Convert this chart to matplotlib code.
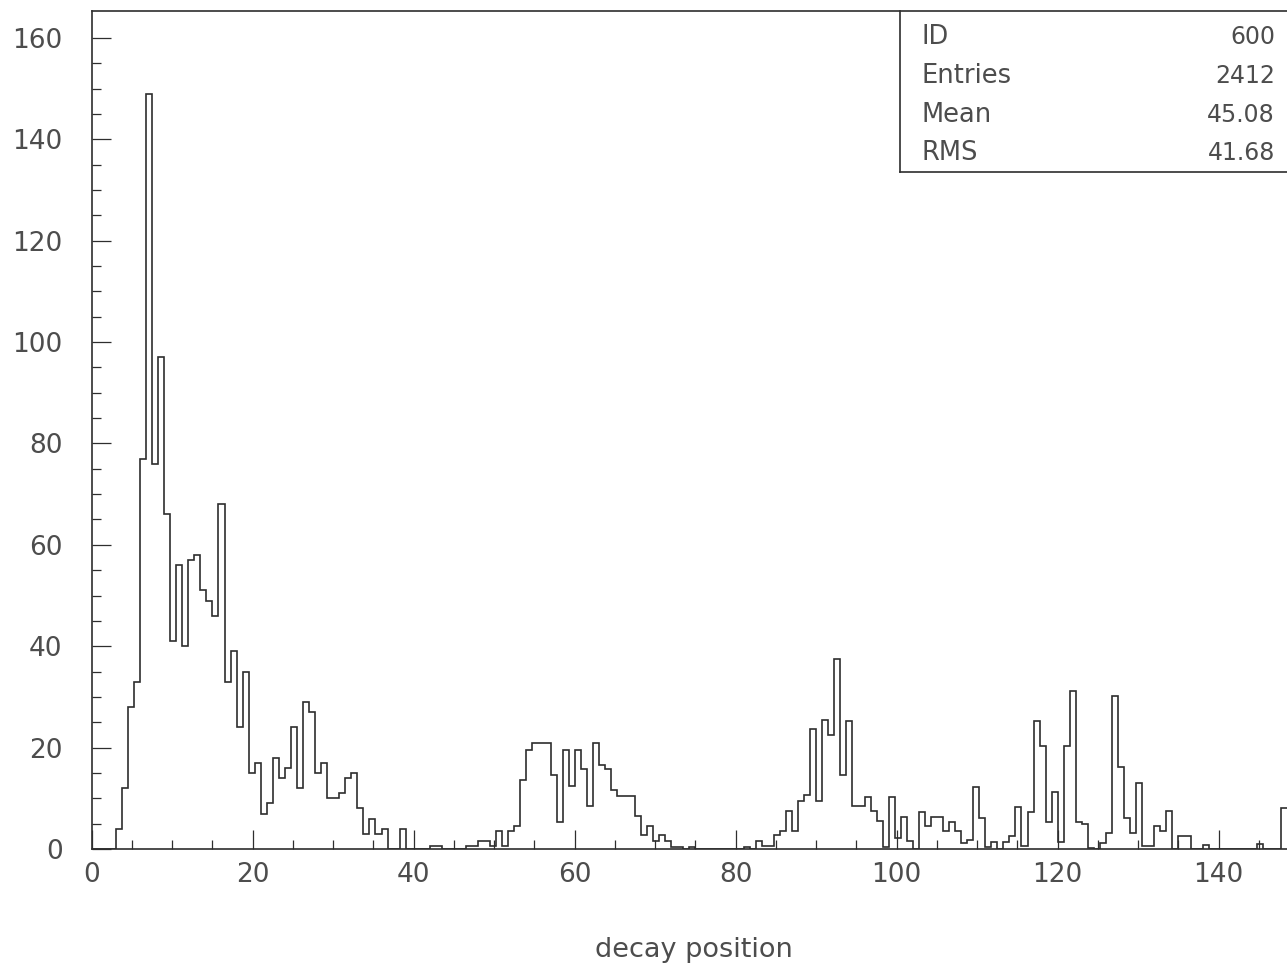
import numpy as np
import matplotlib
matplotlib.use("Agg")
import matplotlib.pyplot as plt
from matplotlib.lines import Line2D

# histogram 600: 200 bins from 0 to 150
x_min = 0.0
x_max = 150.0
n_bins = 200

counts = [
    0, 0, 0, 0, 4, 12, 28, 33, 77, 149, 76, 97, 66, 41, 56, 40, 57, 58, 51, 49,
    46, 68, 33, 39, 24, 35, 15, 17, 7, 9, 18, 14, 16, 24, 12, 29, 27, 15, 17, 10,
    10, 11, 14, 15, 8, 3, 6, 3, 4, 0, 0, 4, 0, 0, 0, 0, 0.5, 0.5, 0, 0,
    0, 0, 0.5, 0.5, 1.5, 1.5, 0.5, 3.5, 0.5, 3.6, 4.6, 13.6, 19.5, 21, 21, 21, 14.6, 5.3, 19.5, 12.5,
    19.5, 15.8, 8.5, 21, 16.6, 15.8, 11.7, 10.5, 10.5, 10.5, 6.6, 2.8, 4.6, 1.5, 2.7, 1.5, 0.4, 0.4, 0, 0.4,
    0, 0, 0, 0, 0, 0, 0, 0, 0.4, 0, 1.5, 0.6, 0.6, 2.7, 3.6, 7.4, 3.6, 9.4, 10.7, 23.6,
    9.5, 25.5, 22.5, 37.4, 14.6, 25.3, 8.5, 8.5, 10.3, 7.4, 5.6, 0.4, 10.3, 2.2, 6.3, 1.5, 0, 7.3, 4.5, 6.3,
    6.3, 3.5, 5.3, 3.5, 1.2, 1.7, 12.2, 6.1, 0.4, 1.4, 0, 1.4, 2.5, 8.2, 0.6, 7.3, 25.3, 20.4, 5.3, 11.2,
    1.4, 20.3, 31.2, 5.4, 4.9, 0.2, 0, 1.2, 3.1, 30.2, 16.2, 6.2, 3.1, 13.1, 0.5, 0.5, 4.6, 3.5, 7.5, 0,
    2.6, 2.6, 0, 0, 0.8, 0, 0, 0, 0, 0, 0, 0, 0, 1, 0, 0, 0, 8, 8, 0,
]

# statistics box
stat_names = ["ID", "Entries", "Mean", "RMS"]
stat_values = ["600", "2412", "45.08", "41.68"]

x_title = "decay position"

ink = "#2e2e2e"
txt = "#4d4d4d"

fig = plt.figure(figsize=(12.87, 9.65), dpi=100)
W, H = 1287.0, 965.0

# frame runs past the right edge of the page, like the printout
ax = fig.add_axes([91.7 / W, (H - 849) / H, 1207.5 / W, 838 / H])

edges = np.linspace(x_min, x_max, n_bins + 1)
ax.stairs(counts, edges, color=ink, linewidth=1.2, baseline=0, fill=False)

ax.set_xlim(x_min, x_max)
ax.set_ylim(0, 165.3)

for s in ["left", "bottom", "top"]:
    ax.spines[s].set_color(ink)
    ax.spines[s].set_linewidth(1.2)
ax.spines["right"].set_visible(False)

ax.set_xticks(np.arange(0, 141, 20))
ax.set_xticks(np.arange(0, 150, 5), minor=True)
ax.set_yticks(np.arange(0, 161, 20))
ax.set_yticks(np.arange(0, 161, 5), minor=True)

ax.tick_params(axis="both", which="major", direction="in", length=14, width=0.9,
               color=ink, labelcolor=txt, labelsize=19)
ax.tick_params(axis="both", which="minor", direction="in", length=6.5, width=0.9,
               color=ink)
ax.tick_params(axis="y", which="major", pad=21)
ax.tick_params(axis="x", which="major", pad=9)
ax.tick_params(top=False, right=False, which="both")

# axis title
fig.text(694 / W, 1 - 950 / H, x_title, ha="center", va="center",
         fontsize=19.5, color=txt)

# stats box: left and bottom edges, top shared with the frame
fig.add_artist(Line2D([900 / W, 900 / W], [1 - 11 / H, 1 - 172 / H],
                      transform=fig.transFigure, color=ink, lw=1.2))
fig.add_artist(Line2D([900 / W, 1.0], [1 - 172 / H, 1 - 172 / H],
                      transform=fig.transFigure, color=ink, lw=1.2))

row_y = [37.5, 76, 114.5, 153]
for name, val, yy in zip(stat_names, stat_values, row_y):
    fig.text(922 / W, 1 - yy / H, name, ha="left", va="center",
             fontsize=18.5, color=txt)
    fig.text(1275 / W, 1 - yy / H, val, ha="right", va="center",
             fontsize=17, color=txt)

fig.savefig("out.png", dpi=100, facecolor="white")
